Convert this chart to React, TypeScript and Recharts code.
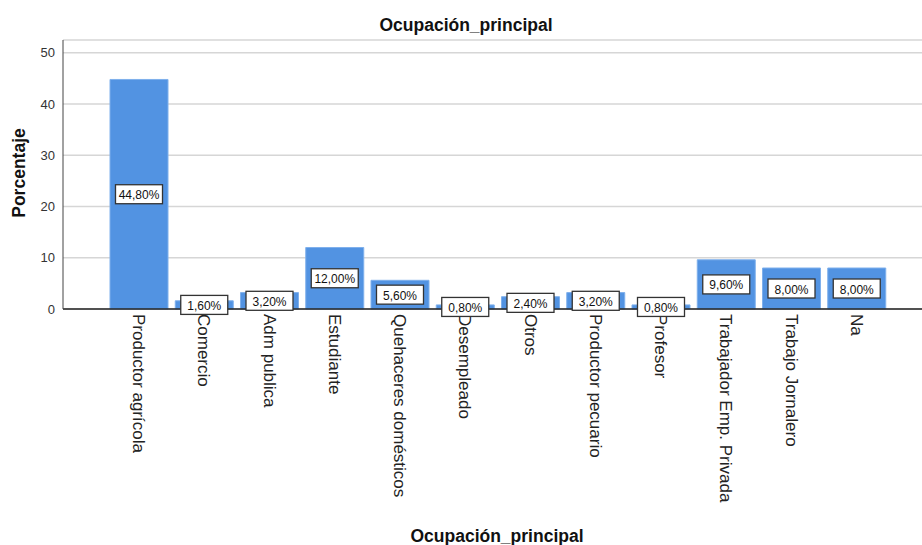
import { Bar, BarChart, CartesianGrid, LabelList, XAxis, YAxis } from "recharts";

const categories = [
  "Productor agrícola",
  "Comercio",
  "Adm publica",
  "Estudiante",
  "Quehaceres domésticos",
  "Desempleado",
  "Otros",
  "Productor pecuario",
  "Profesor",
  "Trabajador Emp. Privada",
  "Trabajo Jornalero",
  "Na",
];
const percentages = [44.8, 1.6, 3.2, 12.0, 5.6, 0.8, 2.4, 3.2, 0.8, 9.6, 8.0, 8.0];
const yTicks = [0, 10, 20, 30, 40, 50];

const data = categories.map((name, i) => ({ name, value: percentages[i] }));

const font = "'Liberation Sans', Arial, sans-serif";

function XTick(props: any) {
  const { x, y, payload } = props;
  return (
    <text
      transform={`translate(${x},${y - 3}) rotate(90)`}
      textAnchor='start'
      dominantBaseline='central'
      fontSize={17}
      fontFamily={font}
      fill='#222'
    >
      {payload.value}
    </text>
  );
}

function ValueLabel(props: any) {
  const { x, y, width, height, value } = props;
  const cx = x + width / 2;
  const cy = y + height / 2;
  const text = value.toFixed(2).replace(".", ",") + "%";
  const w = 47;
  const h = 19;
  return (
    <g>
      <rect x={cx - w / 2} y={cy - h / 2} width={w} height={h} fill='#fff' stroke='#333' strokeWidth={1.3} />
      <text x={cx} y={cy + 1} textAnchor='middle' dominantBaseline='central' fontSize={12} fontFamily={font} fill='#111'>
        {text}
      </text>
    </g>
  );
}

const titleStyle = {
  position: "absolute" as const,
  width: 600,
  textAlign: "center" as const,
  fontWeight: "bold",
  fontSize: 17.5,
  lineHeight: "17.5px",
  color: "#111",
};

export default function App() {
  return (
    <div style={{ position: "absolute", left: 0, top: 0, width: 922, height: 545, background: "#fff", fontFamily: font }}>
      <div style={{ ...titleStyle, top: 17, left: 466 - 300 }}>Ocupación_principal</div>
      <div
        style={{
          position: "absolute",
          left: 19,
          top: 173,
          transform: "translate(-50%, -50%) rotate(-90deg)",
          fontWeight: "bold",
          fontSize: 17.5,
          color: "#111",
          whiteSpace: "nowrap",
        }}
      >
        Porcentaje
      </div>
      <div style={{ ...titleStyle, top: 528, left: 497 - 300 }}>Ocupación_principal</div>
      <BarChart width={922} height={545} data={data} margin={{ top: 40, right: 0, left: 0, bottom: 0 }} barSize={58}>
        <CartesianGrid vertical={false} stroke='#d6d6d6' strokeWidth={1.5} />
        <XAxis
          dataKey='name'
          height={236}
          interval={0}
          tick={<XTick />}
          tickLine={false}
          axisLine={{ stroke: "#222", strokeWidth: 1.3 }}
          padding={{ left: 43, right: 33 }}
        />
        <YAxis
          width={63}
          domain={[0, 52.5]}
          ticks={yTicks}
          tickLine={false}
          axisLine={{ stroke: "#444", strokeWidth: 1 }}
          tick={{ fontSize: 13, fill: "#333", fontFamily: font }}
        />
        <Bar dataKey='value' fill='#5293E2' stroke='#7fb0ec' strokeWidth={1} isAnimationActive={false}>
          <LabelList dataKey='value' content={<ValueLabel />} />
        </Bar>
      </BarChart>
    </div>
  );
}
